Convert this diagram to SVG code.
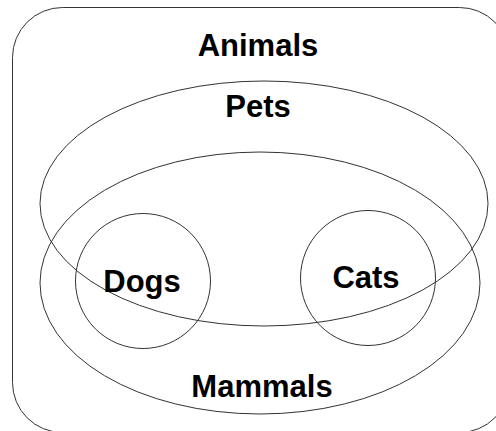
<svg xmlns="http://www.w3.org/2000/svg" width="496" height="431" viewBox="0 0 496 431">
<style>
.s{fill:none;stroke:#333;stroke-width:1}
.t{font-family:"Liberation Sans",Arial,sans-serif;font-weight:bold;font-size:31px;fill:#000;text-anchor:middle}
</style>
<rect width="496" height="431" fill="#fff"/>
<g id="animals">
<rect class="s" x="12.5" y="7.5" width="497" height="425" rx="50" ry="50"/>
<text class="t" x="258" y="56">Animals</text>
</g>
<g id="pets">
<ellipse class="s" cx="264" cy="203.5" rx="224" ry="122.5"/>
<text class="t" x="258" y="117">Pets</text>
</g>
<g id="mammals">
<ellipse class="s" cx="260" cy="283" rx="220" ry="131"/>
<text class="t" x="262" y="397">Mammals</text>
</g>
<g id="dogs">
<circle class="s" cx="143" cy="281" r="67.5"/>
<text class="t" x="142" y="292">Dogs</text>
</g>
<g id="cats">
<circle class="s" cx="368" cy="278" r="67.5"/>
<text class="t" x="366" y="288">Cats</text>
</g>
<g id="connectors"/>
</svg>
